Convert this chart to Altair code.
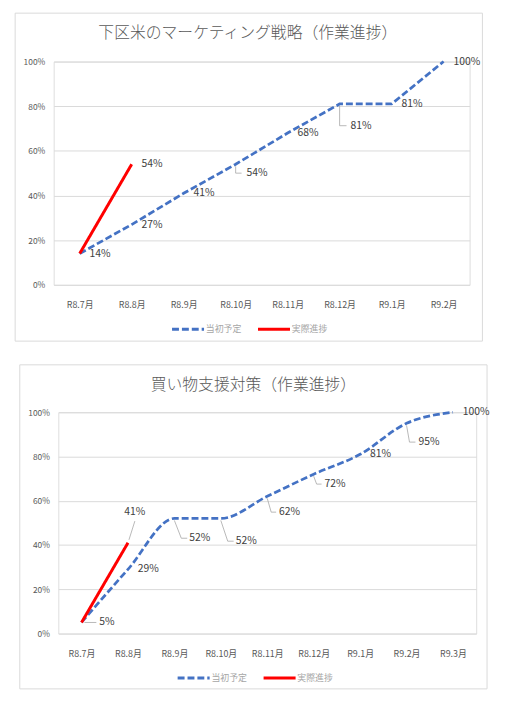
import json
import altair as alt
import pandas as pd

FONT = "Noto Sans CJK JP"
SERIES = ["当初予定", "実際進捗"]
SERIES_COLORS = ["#4472c4", "#ff0000"]
Y_TICKS = [0, 0.2, 0.4, 0.6, 0.8, 1.0]

TOP_TITLE = "下区米のマーケティング戦略（作業進捗）"
TOP_CATEGORIES = ["R8.7月", "R8.8月", "R8.9月", "R8.10月", "R8.11月", "R8.12月", "R9.1月", "R9.2月"]
TOP_PLANNED = [0.14, 0.27, 0.41, 0.54, 0.68, 0.81, 0.81, 1.00]
TOP_ACTUAL = [0.14, 0.54]

BOTTOM_TITLE = "買い物支援対策（作業進捗）"
BOTTOM_CATEGORIES = ["R8.7月", "R8.8月", "R8.9月", "R8.10月", "R8.11月", "R8.12月", "R9.1月", "R9.2月", "R9.3月"]
BOTTOM_PLANNED = [0.05, 0.29, 0.52, 0.52, 0.62, 0.72, 0.81, 0.95, 1.00]
BOTTOM_ACTUAL = [0.05, 0.41]

# label placement tweaks (style only): key -> (dx, dy, align, leader segments) or None = hidden
TOP_NUDGES = {
    "当初予定|R8.10月": (11, 9, "left", [(0, 2, 0, 9), (0, 9, 6, 9)]),
    "当初予定|R8.12月": (11, 22, "left", [(0, 2, 0, 22), (0, 22, 7, 22)]),
    "実際進捗|R8.7月": None,
}
BOTTOM_NUDGES = {
    "当初予定|R8.7月": (18, 0, "left", [(3, 0, 15, 0)]),
    "当初予定|R8.9月": (15, 20, "left", [(0, 2, 7, 20), (7, 20, 13, 20)]),
    "当初予定|R8.10月": (15, 23, "left", [(0, 2, 7, 23), (7, 23, 13, 23)]),
    "当初予定|R8.11月": (12, 16, "left", [(0, 2, 4, 16), (4, 16, 9, 16)]),
    "当初予定|R8.12月": (11, 10, "left", [(0, 2, 3, 10), (3, 10, 8, 10)]),
    "当初予定|R9.2月": (12, 19, "left", [(0, 2, 3, 19), (3, 19, 9, 19)]),
    "実際進捗|R8.8月": (7, -31, "center", [(1, -3, 7, -22)]),
    "実際進捗|R8.7月": None,
}


def panel(title, cats, planned, actual, nudges, width, height, interpolate,
          frame, legend_xy, extra_right=None):
    rows = [dict(cat=c, value=v, series=SERIES[0]) for c, v in zip(cats, planned)]
    rows += [dict(cat=c, value=v, series=SERIES[1]) for c, v in zip(cats, actual)]
    df = pd.DataFrame(rows)
    df["key"] = df["series"] + "|" + df["cat"]
    base = alt.Chart(df)

    x = alt.X("cat:N", sort=cats,
              scale=alt.Scale(type="point", domain=cats, padding=0.5),
              axis=alt.Axis(title=None, labelAngle=0, domain=False, ticks=False,
                            grid=False, labelPadding=16, labelFontSize=9,
                            labelColor="#595959", labelFont=FONT))
    y = alt.Y("value:Q", scale=alt.Scale(domain=[0, 1], nice=False),
              axis=alt.Axis(title=None, values=Y_TICKS, format=".0%", grid=True,
                            gridColor="#d9d9d9", gridWidth=1, domain=False,
                            ticks=False, labelPadding=9, labelFontSize=8.5,
                            labelColor="#595959", labelFont=FONT))
    legend = alt.Legend(title=None, orient="none", legendX=legend_xy[0],
                        legendY=legend_xy[1], direction="horizontal",
                        symbolType="stroke", symbolSize=1050, symbolStrokeWidth=3,
                        labelFontSize=9, labelColor="#a6a6a6", labelFont=FONT,
                        labelOffset=0, columnPadding=9)
    color = alt.Color("series:N", scale=alt.Scale(domain=SERIES, range=SERIES_COLORS),
                      legend=legend)
    dash = alt.StrokeDash("series:N",
                          scale=alt.Scale(domain=SERIES, range=[[7, 3], [1, 0]]),
                          legend=legend)

    fx1, fy1, fx2, fy2 = frame
    fdf = pd.DataFrame({"f": [0]})
    layers = [
        alt.Chart(fdf).mark_rect(filled=False, stroke="#d9d9d9", strokeWidth=1).encode(
            x=alt.value(fx1), x2=alt.value(fx2), y=alt.value(fy1), y2=alt.value(fy2))
    ]
    if extra_right is not None:
        layers.append(alt.Chart(fdf).mark_rect(opacity=0).encode(
            x=alt.value(extra_right - 1), x2=alt.value(extra_right),
            y=alt.value(0), y2=alt.value(1)))

    layers.append(base.transform_filter(alt.datum.series == SERIES[0]).mark_line(
        strokeWidth=2.75, interpolate=interpolate).encode(
        x=x, y=y, color=color, strokeDash=dash))
    layers.append(base.transform_filter(alt.datum.series == SERIES[1]).mark_line(
        strokeWidth=3).encode(x=x, y=y, color=color, strokeDash=dash))

    text_kw = dict(baseline="middle", font=FONT, fontSize=10.5, color="#404040")
    text_enc = dict(x=x, y=y, text=alt.Text("value:Q", format=".0%"))
    keys = json.dumps(list(nudges.keys()), ensure_ascii=False)
    layers.append(base.transform_filter(f"indexof({keys}, datum.key) < 0").mark_text(
        dx=10, align="left", **text_kw).encode(**text_enc))
    for key, spec in nudges.items():
        if spec is None:
            continue
        dx, dy, align, leaders = spec
        sub = base.transform_filter(alt.datum.key == key)
        for (a, b, c, d) in leaders:
            layers.append(sub.mark_rule(color="#a6a6a6", strokeWidth=0.8,
                                        xOffset=a, yOffset=b, x2Offset=c, y2Offset=d).encode(
                x=x, x2=alt.X2("cat"), y=y, y2=alt.Y2("value")))
        layers.append(sub.mark_text(dx=dx, dy=dy, align=align, **text_kw).encode(**text_enc))

    return alt.layer(*layers).properties(
        width=width, height=height,
        title=alt.TitleParams(title, fontSize=16, color="#595959", font=FONT,
                              fontWeight=300, anchor="middle", frame="group",
                              dx=-14, offset=-29),
    )


top = panel(TOP_TITLE, TOP_CATEGORIES, TOP_PLANNED, TOP_ACTUAL, TOP_NUDGES,
            421, 226, "linear", (-39, -49, 434, 283), (118, 253), extra_right=446)
bottom = panel(BOTTOM_TITLE, BOTTOM_CATEGORIES, BOTTOM_PLANNED, BOTTOM_ACTUAL, BOTTOM_NUDGES,
               423, 224, "monotone", (-39, -48, 434, 280), (119, 251))

chart = alt.vconcat(top, bottom, center=True, spacing=22).resolve_scale(
    color="independent", strokeDash="independent"
).resolve_legend(color="independent", strokeDash="independent").properties(
    padding={"left": 6, "top": 0, "right": 2, "bottom": 2}
).configure_view(stroke=None).configure(font=FONT)

chart.save("out.html", embed_options={"renderer": "svg", "actions": False})
